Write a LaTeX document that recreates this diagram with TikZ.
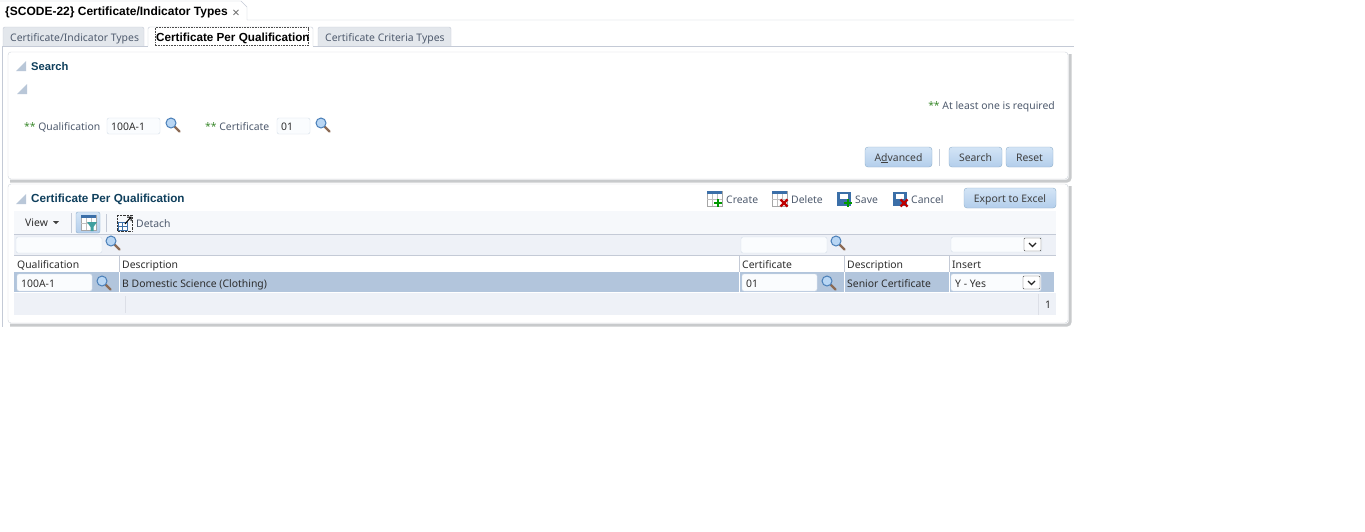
\documentclass[tikz,border=0pt]{standalone}
\usepackage{fontspec}
\setmainfont{Noto Sans}
\newfontfamily\boldfam{Liberation Sans}
\definecolor{linegray}{HTML}{C4CAD6}
\definecolor{tabgray}{HTML}{E3E7EC}
\definecolor{panelshadow}{HTML}{C8CACC}
\definecolor{paneledge}{HTML}{D0D5DC}
\definecolor{headblue}{HTML}{0F3F5C}
\definecolor{greytext}{HTML}{4F5B6E}
\definecolor{stargreen}{HTML}{3C8A2E}
\definecolor{rowblue}{HTML}{B2C5DC}
\definecolor{filterbg}{HTML}{EEF1F7}
\definecolor{barbg}{HTML}{F6F8FB}
\definecolor{fieldedge}{HTML}{D5DEE9}
\definecolor{fieldfill}{HTML}{FAFCFE}
\definecolor{btnedge}{HTML}{8FAFCB}
\definecolor{btntop}{HTML}{D3E4F6}
\definecolor{btnbottom}{HTML}{B3CEEB}
\definecolor{triangle}{HTML}{B9C7D8}
\definecolor{lensfill}{HTML}{B8D6F4}
\definecolor{lensedge}{HTML}{4A7FB8}
\definecolor{lenshandle}{HTML}{8C6B55}
\definecolor{iconblue}{HTML}{3B6FA8}
\tikzset{
  txt/.style={inner sep=0pt, anchor=west, text height=10pt, text depth=2pt,
    font=\fontsize{10.4}{12}\selectfont, text=black!82},
  lbl/.style={txt, text=greytext},
  head/.style={txt, font=\fontsize{11.7}{12}\boldfam\bfseries, text=headblue},
  fieldbox/.style={draw=fieldedge, fill=fieldfill, rounded corners=2pt},
  btn/.style={draw=btnedge, top color=btntop, bottom color=btnbottom, rounded corners=3pt,
    inner sep=0pt, anchor=center, text height=10pt, text depth=2pt,
    font=\fontsize{10.4}{12}\selectfont, text=black!75},
}
\newcommand{\lens}[2]{%
  \draw[line width=2.2pt, draw=lenshandle, line cap=round] (#1+3.5,#2+3.5) -- (#1+8.5,#2+8.5);
  \draw[draw=lensedge, fill=lensfill, line width=1pt] (#1,#2) circle (5);
}
\newcommand{\fold}[2]{%
  \fill[triangle] (#1,#2) -- (#1+10,#2) -- (#1+10,#2-10) -- cycle;
}
\newcommand{\combo}[2]{%
  \draw[draw=black!70, fill=white, rounded corners=1pt] (#1,#2) rectangle (#1+17,#2+13);
  \draw[line width=1.2pt, black!85] (#1+5,#2+5) -- (#1+8.5,#2+8.5) -- (#1+12,#2+5);
}
\newcommand{\gridicon}[2]{%
  \fill[white] (#1,#2) rectangle (#1+15,#2+15);
  \draw[draw=black!35] (#1,#2) rectangle (#1+15,#2+15);
  \fill[iconblue] (#1,#2) rectangle (#1+15,#2+3);
  \draw[black!25] (#1+5,#2+3) -- (#1+5,#2+15) (#1+10,#2+3) -- (#1+10,#2+15) (#1,#2+8) -- (#1+15,#2+8);
}
\newcommand{\saveicon}[2]{%
  \fill[iconblue] (#1,#2) rectangle (#1+14,#2+14);
  \fill[white] (#1+3,#2+1.5) rectangle (#1+11,#2+7);
}
\newcommand{\plusmark}[2]{%
  \draw[green!60!black, line width=2.6pt] (#1-4,#2) -- (#1+4,#2) (#1,#2-4) -- (#1,#2+4);
}
\newcommand{\crossmark}[2]{%
  \draw[red!75!black, line width=2.2pt] (#1-3.5,#2-3.5) -- (#1+3.5,#2+3.5) (#1-3.5,#2+3.5) -- (#1+3.5,#2-3.5);
}
\begin{document}
\begin{tikzpicture}[x=1pt,y=-1pt]
  \useasboundingbox (0,0) rectangle (1365,531);
  \fill[white] (0,0) rectangle (1365,531);

  % top tab
  \draw[linegray] (0,1) -- (241,1) -- (247,7) -- (247,20) -- (1074,20);
  \node[head, text=black, font=\fontsize{12}{12}\boldfam\bfseries] (pagetitle) at (5,11) {\{SCODE-22\} Certificate/Indicator Types};
  \node[txt, anchor=center, text=black!60, font=\fontsize{13}{12}\selectfont] (pageclose) at (236,13) {×};

  % tab row
  \draw[linegray, fill=tabgray, rounded corners=2pt] (3,46) -- (3,27) -- (144,27) -- (144,46);
  \draw[linegray, fill=white, rounded corners=2pt] (148,46) -- (148,27) -- (313,27) -- (313,46);
  \draw[linegray, fill=tabgray, rounded corners=2pt] (318,46) -- (318,27) -- (451,27) -- (451,46);
  \draw[linegray] (2,46) -- (148,46);
  \draw[linegray] (313,46) -- (1074,46);
  \draw[linegray] (2,46) -- (2,327);
  \draw[black!70, line width=0.6pt, densely dotted] (155,27.5) rectangle (308,45.5);
  \node[head, text=black] (tabtwo) at (156,37) {Certificate Per Qualification};
  \node[lbl] (tabone) at (10,37) {Certificate/Indicator Types};
  \node[lbl] (tabthree) at (325,37) {Certificate Criteria Types};

  % search panel
  \draw[panelshadow, line width=3pt, rounded corners=3pt] (1070,54) -- (1070,181) -- (10,181);
  \draw[paneledge, fill=white, rounded corners=3pt] (8,52) rectangle (1068,179);
  \fold{16}{71}
  \fold{17}{94}
  \node[head, font=\fontsize{11.2}{12}\boldfam\bfseries] (searchhead) at (31,66) {Search};
  \node[lbl, anchor=east] (required) at (1055,105) {\textcolor{stargreen}{**} At least one is required};
  \node[lbl] (qualstar) at (24,126) {\textcolor{stargreen}{**} Qualification};
  \draw[fieldbox] (107,118) rectangle (160,134);
  \node[txt] (qualvalue) at (111,126) {100A-1};
  \lens{171}{123}
  \node[lbl] (certstar) at (205,126) {\textcolor{stargreen}{**} Certificate};
  \draw[fieldbox] (277,118) rectangle (310,134);
  \node[txt] (certvalue) at (281,126) {01};
  \lens{321}{123}
  \node[btn, minimum width=67pt, minimum height=20pt] (advanced) at (898.5,157) {A\underline{d}vanced};
  \draw[linegray] (939.5,149) -- (939.5,166);
  \node[btn, minimum width=53pt, minimum height=20pt] (search) at (975.5,157) {Search};
  \node[btn, minimum width=47pt, minimum height=20pt] (reset) at (1029.5,157) {Reset};

  % result panel
  \draw[panelshadow, line width=3pt, rounded corners=3pt] (1070,186) -- (1070,325) -- (10,325);
  \draw[paneledge, fill=white, rounded corners=3pt] (8,184) rectangle (1068,323);
  \fold{16}{204}
  \node[head] (resulthead) at (31,198) {Certificate Per Qualification};
  \gridicon{707}{191}
  \plusmark{718}{203}
  \node[lbl] (create) at (726,199) {Create};
  \gridicon{772}{191}
  \crossmark{784}{203}
  \node[lbl] (delete) at (791,199) {Delete};
  \saveicon{837}{192}
  \plusmark{848}{203}
  \node[lbl] (save) at (855,199) {Save};
  \saveicon{893}{192}
  \crossmark{904}{203}
  \node[lbl] (cancel) at (911,199) {Cancel};
  \node[btn, minimum width=92pt, minimum height=20pt] (export) at (1010,198) {Export to Excel};

  % toolbar
  \fill[barbg] (14,211) rectangle (1056,234);
  \node[txt] (view) at (25,222) {View};
  \fill[black!75] (53,221) -- (59,221) -- (56,224) -- cycle;
  \draw[linegray] (71,213) -- (71,233);
  \draw[btnedge, top color=btntop, bottom color=btnbottom, rounded corners=2pt] (76,212) rectangle (100,233);
  \gridicon{81}{215}
  \fill[green!50!blue!75] (87,222) -- (97,222) -- (93.5,227) -- (93.5,231) -- (90.5,231) -- (90.5,227) -- cycle;
  \draw[linegray] (106.5,214) -- (106.5,232);
  \draw[black!80, densely dotted] (117,215) rectangle (132,231);
  \draw[iconblue, fill=white] (118.5,222) rectangle (127,230);
  \draw[iconblue] (118.5,226) -- (127,226) (122.5,222) -- (122.5,230);
  \draw[black, line width=1pt] (125,224) -- (131,217) (127,217) -- (131,217) -- (131,221);
  \node[lbl] (detach) at (136,223) {Detach};

  % table
  \fill[filterbg] (14,234) rectangle (1056,255);
  \fill[rowblue] (14,272) rectangle (1054,292);
  \fill[filterbg] (14,293) rectangle (1056,315);
  \draw[linegray] (14,234.5) -- (1056,234.5);
  \draw[linegray] (14,255.5) -- (1056,255.5);
  \foreach \colx in {119.5,739.5,844.5,949.5} {
    \draw[linegray] (\colx,255) -- (\colx,272);
    \draw[white] (\colx,272) -- (\colx,292);
  }
  \draw[fieldbox] (16,237) rectangle (102,253);
  \lens{111}{241}
  \draw[fieldbox] (741,237) rectangle (827,253);
  \lens{836}{241}
  \draw[fieldbox] (951,237) rectangle (1042,252);
  \combo{1024}{238}
  \node[txt] (colqual) at (17,264) {Qualification};
  \node[txt] (coldesc) at (122,264) {Description};
  \node[txt] (colcert) at (742,264) {Certificate};
  \node[txt] (coldesctwo) at (847,264) {Description};
  \node[txt] (colinsert) at (952,264) {Insert};
  \draw[fieldbox] (17,274) rectangle (92,291);
  \node[txt] (rowqual) at (21,283) {100A-1};
  \lens{102}{281}
  \node[txt] (rowdesc) at (122,283) {B Domestic Science (Clothing)};
  \draw[fieldbox] (742,274) rectangle (817,291);
  \node[txt] (rowcert) at (746,283) {01};
  \lens{827}{281}
  \node[txt] (rowdesctwo) at (847,283) {Senior Certificate};
  \draw[fieldbox] (951,274) rectangle (1041,291);
  \node[txt] (rowinsert) at (955,283) {Y - Yes};
  \combo{1023}{276}
  \draw[linegray!60] (125.5,296) -- (125.5,313);
  \draw[linegray!60] (1038.5,294) -- (1038.5,315);
  \node[txt] (rowcount) at (1045,304) {1};
\end{tikzpicture}
\end{document}
